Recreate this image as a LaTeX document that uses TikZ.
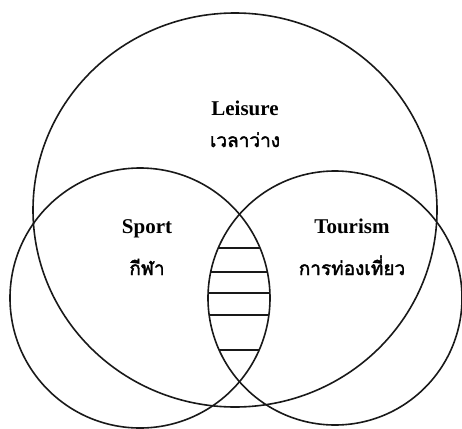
\documentclass[tikz,border=0pt]{standalone}
\usepackage{fontspec}
\setmainfont{Liberation Serif}
\newfontfamily\thaifont[Script=Thai,FakeBold=2]{Loma}
\begin{document}
\begin{tikzpicture}[x=1pt,y=-1pt,
  ring/.style={draw=black!90,line width=1.6pt},
  hatch/.style={draw=black!90,line width=2pt},
  entxt/.style={font=\fontsize{21}{21}\selectfont\bfseries,anchor=base,inner sep=0pt},
  thtxt/.style={font=\thaifont\fontsize{19}{19}\selectfont,anchor=base,inner sep=0pt}]
\useasboundingbox (0,0) rectangle (462,428);
% circles
\draw[ring] (235,210) ellipse [x radius=202, y radius=197];
\draw[ring] (140,298) circle [radius=130];
\draw[ring] (335,298) circle [radius=127];
% hatched lens
\begin{scope}
  \clip (140,298) circle [radius=130];
  \clip (335,298) circle [radius=127];
  \foreach \yy in {248,272,293,315,350} {
    \draw[hatch] (180,\yy) -- (300,\yy);
  }
\end{scope}
% labels
\node[entxt] (leis) at (245,115) {Leisure};
\node[thtxt] (leisth) at (245,147) {เวลาว่าง};
\node[entxt] (sport) at (147,233) {Sport};
\node[thtxt] (sportth) at (147,275) {กีฬา};
\node[entxt] (tour) at (352,233) {Tourism};
\node[thtxt] (tourth) at (352,275) {การท่องเที่ยว};
\end{tikzpicture}
\end{document}
